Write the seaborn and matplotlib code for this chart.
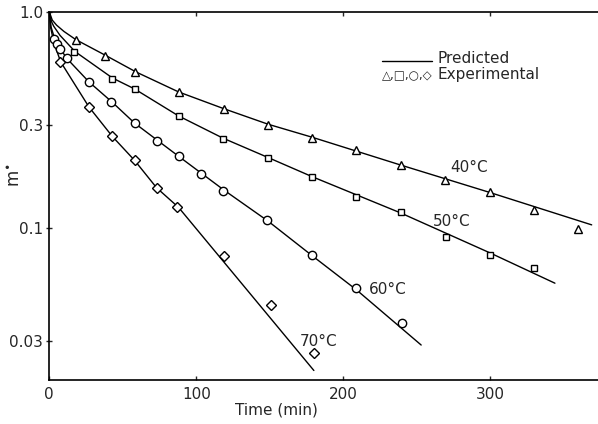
import matplotlib
matplotlib.use("Agg")
import matplotlib.pyplot as plt
import seaborn as sns
import pandas as pd

# Experimental points (time in min, dimensionless moisture ratio m*)
t40 = [18, 38, 58, 88, 119, 149, 179, 209, 239, 269, 300, 330, 360]
m40 = [0.736, 0.626, 0.525, 0.426, 0.356, 0.300, 0.261, 0.230, 0.194, 0.166, 0.146, 0.121, 0.0986]

t50 = [17, 43, 58, 88, 118, 149, 179, 209, 239, 270, 300, 330]
m50 = [0.648, 0.490, 0.439, 0.328, 0.258, 0.211, 0.171, 0.139, 0.118, 0.0906, 0.0745, 0.0651]

t60 = [3.5, 5.4, 7.4, 12, 27, 42, 58, 73, 88, 103, 118, 148, 179, 209, 240]
m60 = [0.750, 0.709, 0.674, 0.609, 0.474, 0.380, 0.305, 0.252, 0.214, 0.178, 0.148, 0.108, 0.0748, 0.0523, 0.0363]

t70 = [7.5, 27, 43, 58, 73, 87, 119, 151, 180]
m70 = [0.585, 0.362, 0.265, 0.206, 0.153, 0.125, 0.0736, 0.0439, 0.0264]

# Predicted curves
p40_t = [0, 2, 5, 10, 18, 39, 59, 88, 119, 149, 179, 239, 299, 369]
p40_m = [1.0, 0.915, 0.866, 0.81, 0.743, 0.624, 0.526, 0.425, 0.355, 0.301, 0.262, 0.195, 0.146, 0.103]

p50_t = [0, 1.5, 3, 7.3, 17.5, 43, 58, 88, 118, 149, 179, 239, 300, 344]
p50_m = [1.0, 0.90, 0.857, 0.777, 0.654, 0.493, 0.439, 0.329, 0.260, 0.211, 0.172, 0.117, 0.0763, 0.0553]

p60_t = [0, 1.2, 3.5, 7.3, 12, 27, 43, 58, 88, 119, 149, 179, 209, 253]
p60_m = [1.0, 0.85, 0.756, 0.676, 0.607, 0.473, 0.380, 0.305, 0.214, 0.149, 0.107, 0.0740, 0.0515, 0.0286]

p70_t = [0, 1.0, 3.2, 7.8, 27, 43, 58, 73, 88, 180]
p70_m = [1.0, 0.84, 0.716, 0.585, 0.362, 0.264, 0.205, 0.153, 0.124, 0.0218]

temps = ["40°C", "50°C", "60°C", "70°C"]
markers = ["^", "s", "o", "D"]
marker_sizes = [5.2, 5.0, 6.0, 4.8]
label_pos_t = [272.6, 261.2, 217.7, 170.5]
label_pos_m = [0.189, 0.107, 0.0517, 0.0297]

yticks = [0.03, 0.1, 0.3, 1.0]
ytick_labels = ["0.03", "0.1", "0.3", "1.0"]
xticks = [0, 100, 200, 300]

exp_sets = [(t40, m40), (t50, m50), (t60, m60), (t70, m70)]
pred_sets = [(p40_t, p40_m), (p50_t, p50_m), (p60_t, p60_m), (p70_t, p70_m)]

exp = pd.concat([pd.DataFrame({"t": t, "m": m, "temp": lab})
                 for (t, m), lab in zip(exp_sets, temps)], ignore_index=True)
pred = pd.concat([pd.DataFrame({"t": t, "m": m, "temp": lab})
                  for (t, m), lab in zip(pred_sets, temps)], ignore_index=True)

sns.set_style("ticks")
plt.rcParams["font.family"] = ["DejaVu Sans"]
plt.rcParams["font.size"] = 11

fig = plt.figure(figsize=(5.98, 4.24), dpi=100)
ax = fig.add_axes([0.0824, 0.1038, 0.9176, 0.8686])

for lab in temps:
    sub = pred[pred["temp"] == lab]
    sns.lineplot(data=sub, x="t", y="m", ax=ax, color="black", lw=1.0,
                 estimator=None, sort=False, legend=False)

for lab, mk, ms in zip(temps, markers, marker_sizes):
    sub = exp[exp["temp"] == lab]
    sns.lineplot(data=sub, x="t", y="m", ax=ax, estimator=None, sort=False,
                 legend=False, linestyle="", marker=mk, markersize=ms,
                 markerfacecolor="white", markeredgecolor="black",
                 markeredgewidth=1.0, color="black")

for lab, tx, my in zip(temps, label_pos_t, label_pos_m):
    ax.text(tx, my, lab, fontsize=11, ha="left", va="center")

ax.set_yscale("log")
ax.set_xlim(0, 373.3)
ax.set_ylim(0.0197, 1.0)
ax.set_yticks(yticks)
ax.set_yticklabels(ytick_labels)
ax.yaxis.set_minor_locator(matplotlib.ticker.NullLocator())
ax.set_xticks(xticks)

ax.tick_params(axis="x", direction="in", length=3, width=1.0, top=True,
               labelsize=11, pad=5)
ax.tick_params(axis="y", direction="inout", length=5, width=1.0,
               labelsize=11, pad=2)

for side in ["left", "bottom", "top"]:
    ax.spines[side].set_linewidth(1.2)
    ax.spines[side].set_color("black")
ax.spines["right"].set_visible(False)

ax.set_xlabel("Time (min)", fontsize=11)
ax.xaxis.set_label_coords(0.414, -0.062)
ax.set_ylabel(r"m$^{\bullet}$", fontsize=12)
ax.yaxis.set_label_coords(-0.046, 0.555)

# key in the upper right
ax.plot([0.6057, 0.6968], [0.8665, 0.8665], transform=ax.transAxes,
        color="black", lw=1.0)
ax.text(0.708, 0.874, "Predicted", transform=ax.transAxes, fontsize=11,
        ha="left", va="center")
ax.text(0.708, 0.829, "Experimental", transform=ax.transAxes, fontsize=11,
        ha="left", va="center")
ax.text(0.6057, 0.826, "△,□,○,◇", transform=ax.transAxes, fontsize=8.5,
        ha="left", va="center")

fig.savefig("out.png", dpi=100, facecolor="white")
